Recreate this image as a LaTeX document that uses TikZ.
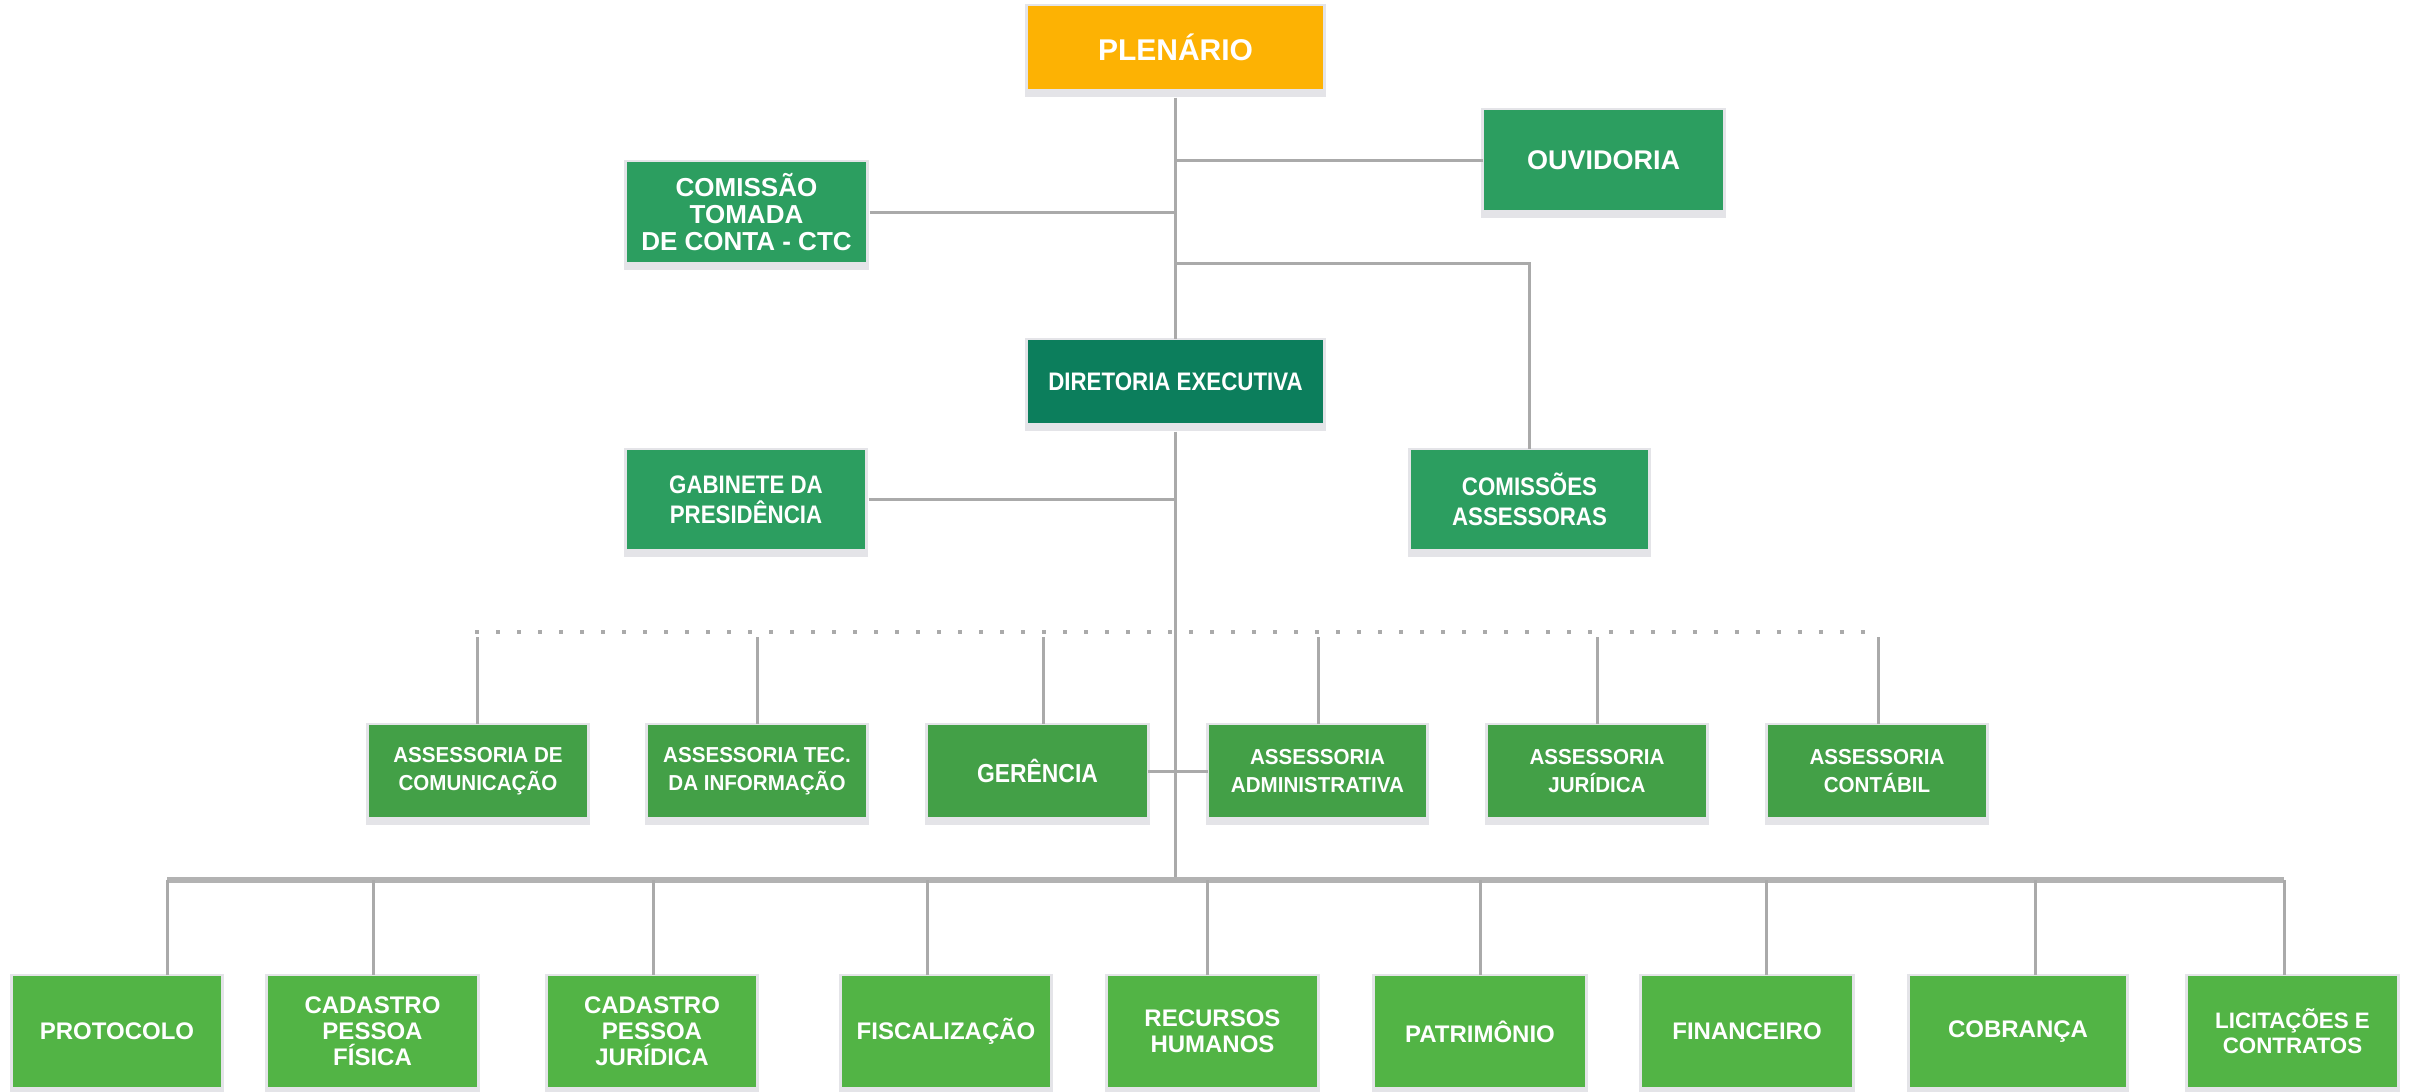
\documentclass[tikz,border=0pt]{standalone}
\usepackage{fontspec}
\setmainfont{Liberation Sans}
\newfontfamily\condA[FakeStretch=0.88]{Liberation Sans}
\newfontfamily\condB[FakeStretch=0.95]{Liberation Sans}
\definecolor{plenc}{RGB}{253,178,3}
\definecolor{upc}{RGB}{44,158,96}
\definecolor{dirc}{RGB}{12,126,92}
\definecolor{asc}{RGB}{67,160,71}
\definecolor{botc}{RGB}{82,180,69}
\definecolor{linec}{RGB}{170,170,170}
\definecolor{barc}{RGB}{178,178,178}
\definecolor{shadowc}{RGB}{228,228,232}
\tikzset{
  orgnode/.style={rectangle, inner sep=0pt, text=white, align=center},
  conn/.style={draw=linec, line width=0.9pt},
  barline/.style={draw=barc, line width=1.8pt},
  dotline/.style={draw=linec, line width=1.2pt, dash pattern=on 1.2pt off 5.1pt},
  fP/.style={font=\fontsize{9}{10}\selectfont\bfseries},
  fU/.style={font=\condA\fontsize{7.6}{9}\selectfont\bfseries},
  fA/.style={font=\condB\fontsize{6.5}{8.4}\selectfont\bfseries},
  fB/.style={font=\fontsize{7.2}{7.8}\selectfont\bfseries}
}
\newcommand\orgbox[7]{%
  \fill[shadowc] (#2-3,#3-2) rectangle (#4+3,#5+8);
  \pgfmathsetmacro\obw{(#4-#2)*0.3}%
  \pgfmathsetmacro\obh{(#5-#3)*0.3}%
  \node[orgnode,#6,minimum width=\obw pt,minimum height=\obh pt] (#1) at ({(#2+#4)/2},{(#3+#5)/2}) {#7};
}
\begin{document}
\begin{tikzpicture}[x=0.3pt,y=-0.3pt]
\useasboundingbox (0,0) rectangle (2410,1092);
\fill[white] (0,0) rectangle (2410,1092);

% top part
\orgbox{plen}{1028}{6}{1323}{89}{fill=plenc,fP}{PLENÁRIO}
\orgbox{ouv}{1484}{110}{1723}{210}{fill=upc,font=\fontsize{8.1}{8.5}\selectfont\bfseries}{OUVIDORIA}
\orgbox{ctc}{627}{162}{866}{262}{fill=upc,font=\fontsize{7.8}{8.1}\selectfont\bfseries}{COMISSÃO\\TOMADA\\DE CONTA - CTC}
\orgbox{dir}{1028}{340}{1323}{423}{fill=dirc,fU}{DIRETORIA EXECUTIVA}
\orgbox{gab}{627}{450}{865}{549}{fill=upc,fU}{GABINETE DA\\PRESIDÊNCIA}
\orgbox{com}{1411}{450}{1648}{549}{fill=upc,fU}{COMISSÕES\\ASSESSORAS}

% assessoria row
\orgbox{a1}{369}{725}{587}{817}{fill=asc,fA}{ASSESSORIA DE\\COMUNICAÇÃO}
\orgbox{a2}{648}{725}{866}{817}{fill=asc,fA}{ASSESSORIA TEC.\\DA INFORMAÇÃO}
\orgbox{ger}{928}{725}{1147}{817}{fill=asc,font=\condA\fontsize{7.8}{9}\selectfont\bfseries}{GERÊNCIA}
\orgbox{a4}{1209}{725}{1426}{817}{fill=asc,fA}{ASSESSORIA\\ADMINISTRATIVA}
\orgbox{a5}{1488}{725}{1706}{817}{fill=asc,fA}{ASSESSORIA\\JURÍDICA}
\orgbox{a6}{1768}{725}{1986}{817}{fill=asc,fA}{ASSESSORIA\\CONTÁBIL}

% bottom row
\orgbox{p1}{13}{976}{221}{1087}{fill=botc,fB}{PROTOCOLO}
\orgbox{p2}{268}{976}{477}{1087}{fill=botc,fB}{CADASTRO\\PESSOA\\FÍSICA}
\orgbox{p3}{548}{976}{756}{1087}{fill=botc,fB}{CADASTRO\\PESSOA\\JURÍDICA}
\orgbox{p4}{842}{976}{1050}{1087}{fill=botc,fB}{FISCALIZAÇÃO}
\orgbox{p5}{1108}{976}{1317}{1087}{fill=botc,fB}{RECURSOS\\HUMANOS}
\orgbox{p6}{1375}{976}{1585}{1087}{fill=botc,fB}{PATRIMÔNIO}
\orgbox{p7}{1642}{976}{1852}{1087}{fill=botc,fB}{FINANCEIRO}
\orgbox{p8}{1910}{976}{2126}{1087}{fill=botc,fB}{COBRANÇA}
\orgbox{p9}{2188}{976}{2397}{1087}{fill=botc,font=\fontsize{6.7}{7.5}\selectfont\bfseries}{LICITAÇÕES E\\CONTRATOS}

% connectors
\coordinate (cb) at (1175.5,263);
\coordinate (bar) at (1175.5,880);
\coordinate (dl) at (475,632);
\coordinate (dr) at (1875,632);
\coordinate (bl) at (167,880);
\coordinate (br) at (2284,880);

\draw[conn] (plen.south) ++(0,8) -- (dir.north);
\draw[conn] (ctc.east) ++(3,0) -- (ctc.east -| plen.south);
\draw[conn] (ouv.west) -- (ouv.west -| plen.south);
\draw[conn] (cb) -| (com.north);
\draw[conn] (gab.east) ++(3,0) -- (gab.east -| dir.south);
\draw[conn] (dir.south) ++(0,8) -- (bar);
\draw[conn] (ger.east) -- (a4.west);
\draw[dotline] (dl) -- (dr);
\foreach \n/\xx in {a1/477,a2/757,ger/1043,a4/1318,a5/1597,a6/1878}
  \draw[conn] (\xx,637) -- (\n.north -| \xx,0);
\draw[barline] (bl) -- (br);
\foreach \n/\xx in {p1/167,p2/373,p3/653,p4/927,p5/1207,p6/1480,p7/1766,p8/2035,p9/2284}
  \draw[conn] (\xx,880) -- (\n.north -| \xx,0);
\end{tikzpicture}
\end{document}
